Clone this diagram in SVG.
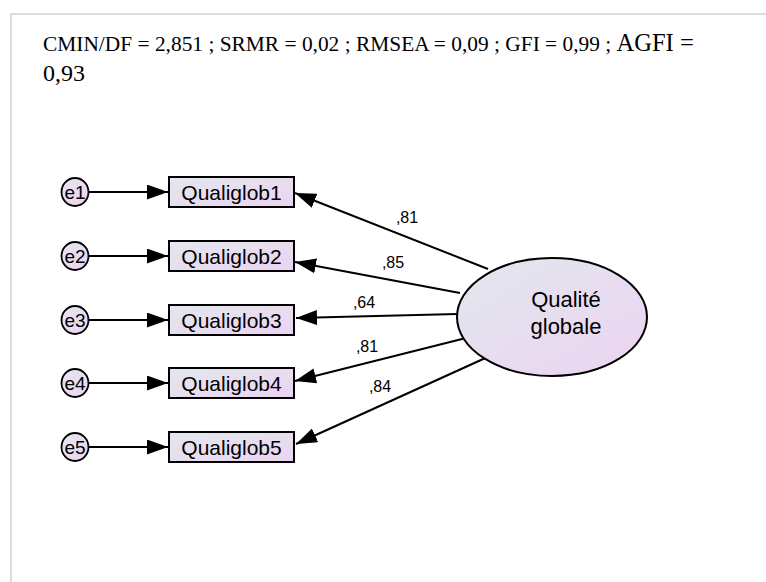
<svg xmlns="http://www.w3.org/2000/svg" width="766" height="582" viewBox="0 0 766 582">
<defs>
<linearGradient id="g" x1="0" y1="0" x2="1" y2="1">
<stop offset="0" stop-color="#e2e8ee"/>
<stop offset="1" stop-color="#ecd3f1"/>
</linearGradient>
<marker id="ah" markerUnits="userSpaceOnUse" markerWidth="22" markerHeight="16" refX="21" refY="7.5" orient="auto">
<path d="M0,0 L21,7.5 L0,15 z" fill="#000"/>
</marker>
</defs>
<style>
.hdr{font-family:"Liberation Serif","Times New Roman",serif;fill:#000}
.lbl{font-family:"Liberation Sans",Arial,sans-serif;font-size:21px;fill:#000;text-anchor:middle}
.err-t{font-family:"Liberation Sans",Arial,sans-serif;font-size:19px;fill:#000;text-anchor:middle}
.big{font-family:"Liberation Sans",Arial,sans-serif;font-size:22px;fill:#000;text-anchor:middle}
.coef{font-family:"Liberation Sans",Arial,sans-serif;font-size:16px;fill:#000;text-anchor:middle}
.box{fill:url(#g);stroke:#000;stroke-width:2}
.err{fill:url(#g);stroke:#000;stroke-width:1.8}
.con{stroke:#000;stroke-width:2;fill:none;marker-end:url(#ah)}
</style>
<rect width="766" height="582" fill="#fff"/>
<path d="M11,582 V14 H766" fill="none" stroke="#dcdcdc" stroke-width="2"/>
<text class="hdr" x="43" y="51" font-size="21.4">CMIN/DF = 2,851 ; SRMR = 0,02 ; RMSEA = 0,09 ; GFI = 0,99 ; <tspan font-size="24.5">AGFI =</tspan></text>
<text class="hdr" x="43" y="81" font-size="24">0,93</text>
<g id="connectors">
<line class="con" x1="89" y1="192" x2="168" y2="192"/>
<line class="con" x1="89" y1="256" x2="168" y2="256"/>
<line class="con" x1="89" y1="320" x2="168" y2="320"/>
<line class="con" x1="89" y1="383" x2="168" y2="383"/>
<line class="con" x1="89" y1="447" x2="168" y2="447"/>
<line class="con" x1="488" y1="269" x2="295" y2="193"/>
<line class="con" x1="460" y1="293" x2="295" y2="262"/>
<line class="con" x1="457" y1="314" x2="296" y2="318"/>
<line class="con" x1="466" y1="338" x2="295" y2="381"/>
<line class="con" x1="492" y1="355" x2="296" y2="444"/>
<text class="coef" x="407" y="223">,81</text>
<text class="coef" x="393" y="268">,85</text>
<text class="coef" x="364" y="308">,64</text>
<text class="coef" x="367" y="352">,81</text>
<text class="coef" x="380" y="392">,84</text>
</g>
<g id="e1"><ellipse class="err" cx="75" cy="192" rx="13.5" ry="14"/><text class="err-t" x="75" y="199">e1</text></g>
<g id="e2"><ellipse class="err" cx="75" cy="256" rx="13.5" ry="14"/><text class="err-t" x="75" y="263">e2</text></g>
<g id="e3"><ellipse class="err" cx="75" cy="320" rx="13.5" ry="14"/><text class="err-t" x="75" y="327">e3</text></g>
<g id="e4"><ellipse class="err" cx="75" cy="383" rx="13.5" ry="14"/><text class="err-t" x="75" y="390">e4</text></g>
<g id="e5"><ellipse class="err" cx="75" cy="447" rx="13.5" ry="14"/><text class="err-t" x="75" y="454">e5</text></g>
<g id="Qualiglob1"><rect class="box" x="169" y="177" width="125" height="30"/><text class="lbl" x="231.5" y="199.5">Qualiglob1</text></g>
<g id="Qualiglob2"><rect class="box" x="169" y="241" width="125" height="30"/><text class="lbl" x="231.5" y="263.5">Qualiglob2</text></g>
<g id="Qualiglob3"><rect class="box" x="169" y="305" width="125" height="30"/><text class="lbl" x="231.5" y="327.5">Qualiglob3</text></g>
<g id="Qualiglob4"><rect class="box" x="169" y="368" width="125" height="30"/><text class="lbl" x="231.5" y="390.5">Qualiglob4</text></g>
<g id="Qualiglob5"><rect class="box" x="169" y="432" width="125" height="30"/><text class="lbl" x="231.5" y="454.5">Qualiglob5</text></g>
<g id="QualiteGlobale"><ellipse class="box" cx="552" cy="317" rx="95" ry="59"/><text class="big" x="566" y="307">Qualité</text><text class="big" x="566" y="334">globale</text></g>
</svg>
